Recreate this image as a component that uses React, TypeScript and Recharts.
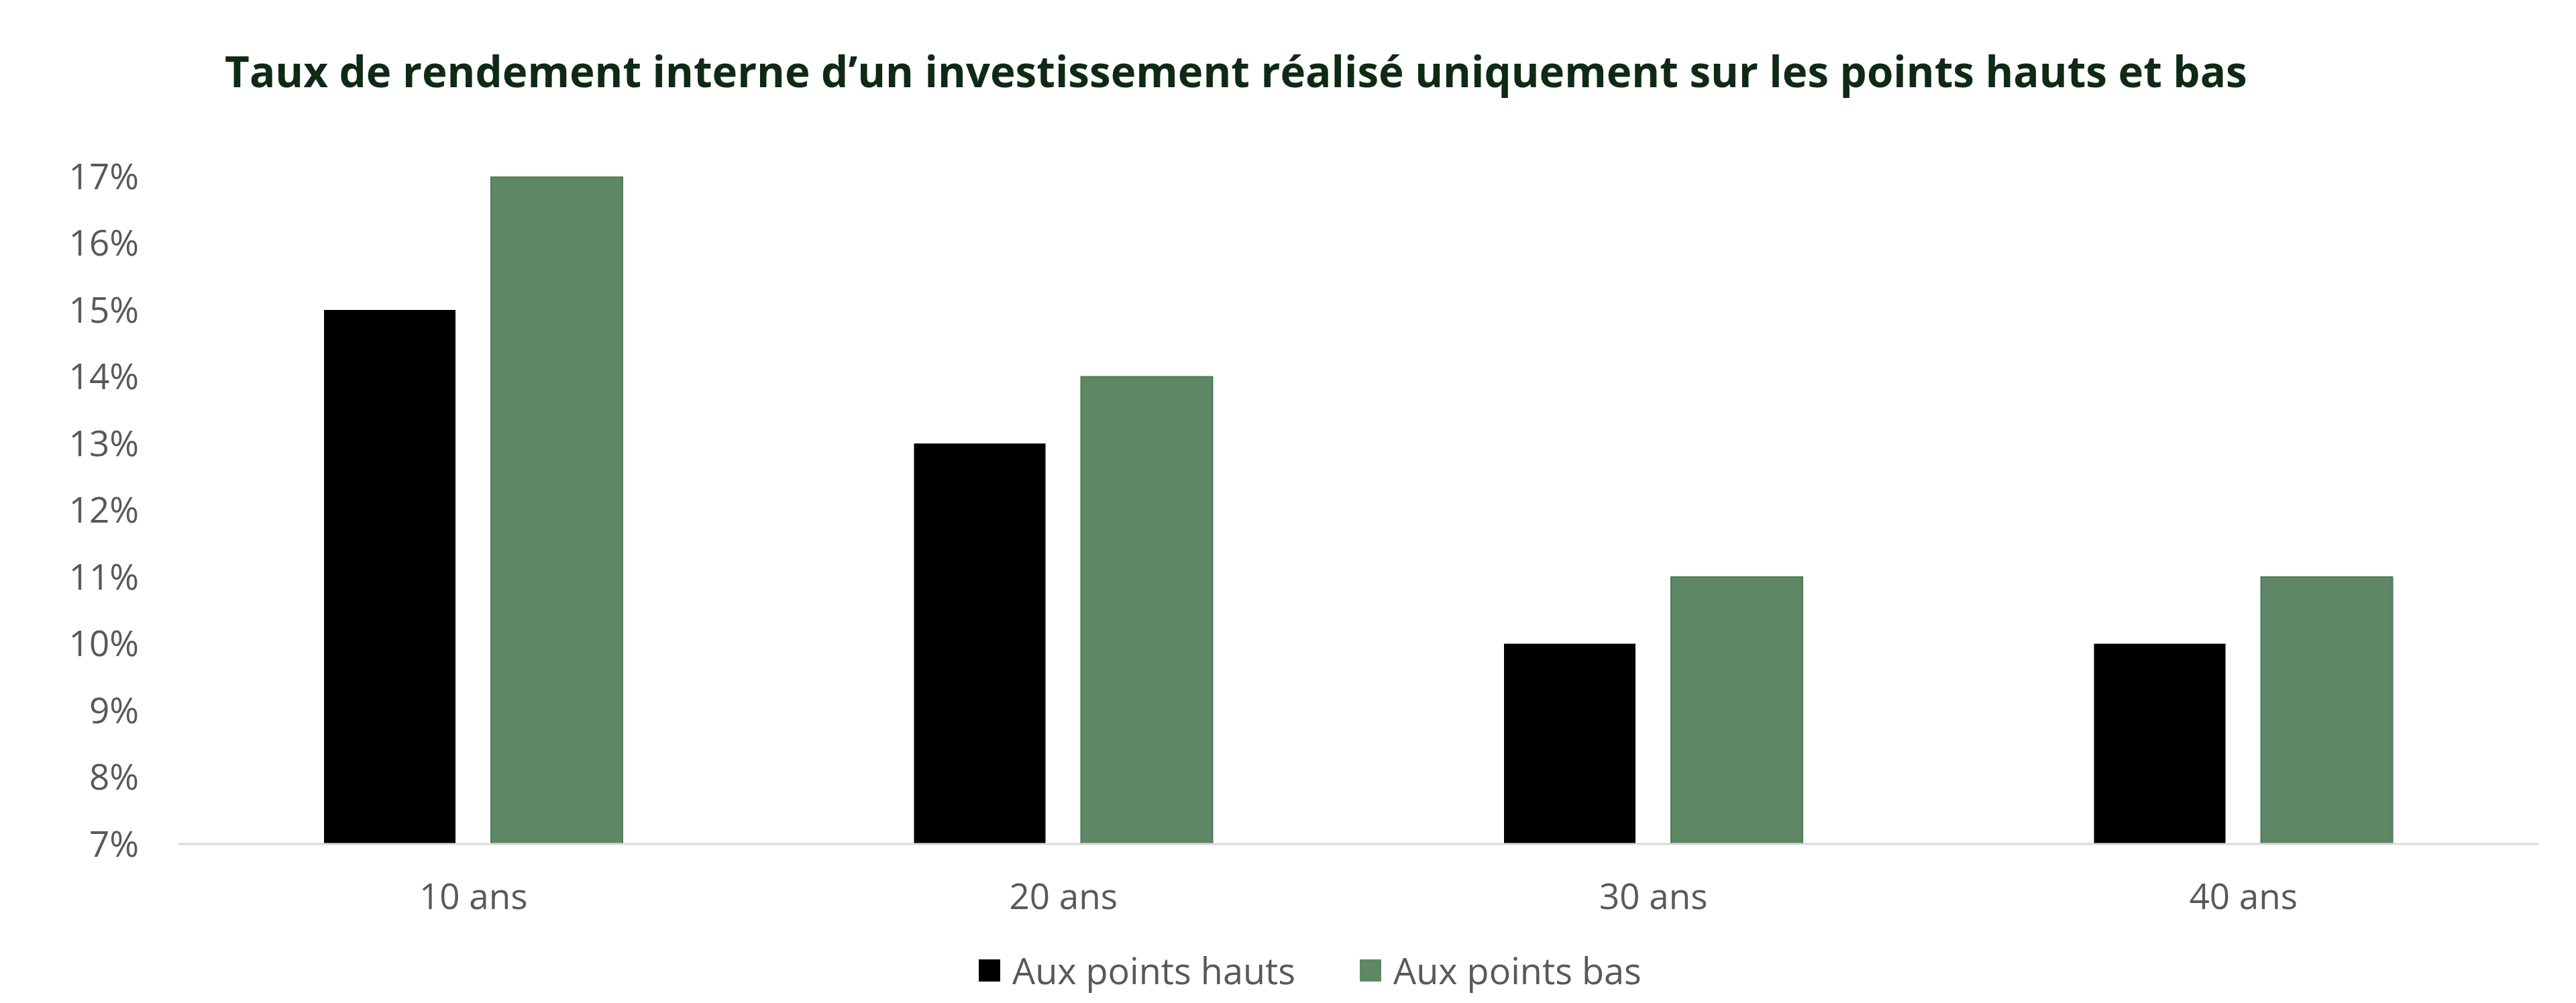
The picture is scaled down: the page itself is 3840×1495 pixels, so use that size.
import { BarChart, Bar, XAxis, YAxis, Legend } from "recharts";

const periods = ["10 ans", "20 ans", "30 ans", "40 ans"];
const auxPointsHauts = [15, 13, 10, 10];
const auxPointsBas = [17, 14, 11, 11];
const yTicks = [7, 8, 9, 10, 11, 12, 13, 14, 15, 16, 17];
const seriesOrder = ["Aux points hauts", "Aux points bas"];

const data = periods.map((periode, i) => ({
  periode,
  hauts: auxPointsHauts[i],
  bas: auxPointsBas[i],
}));

const FONT = '"Open Sans", sans-serif';
const GREEN = "#5e8766";

const renderLegend = (props: any) => {
  const payload = [...(props.payload || [])].sort(
    (a: any, b: any) => seriesOrder.indexOf(a.value) - seriesOrder.indexOf(b.value)
  );
  return (
    <div style={{ display: "flex", alignItems: "center", fontFamily: FONT }}>
      {payload.map((entry: any, i: number) => (
        <div
          key={entry.value}
          style={{ display: "flex", alignItems: "center", marginRight: i === 0 ? 96 : 0 }}
        >
          <span
            style={{
              display: "inline-block",
              width: 32,
              height: 33,
              background: entry.color,
              marginRight: 18,
            }}
          />
          <span style={{ fontSize: 54, color: "#595959", lineHeight: "60px" }}>{entry.value}</span>
        </div>
      ))}
    </div>
  );
};

export default function App() {
  return (
    <div
      style={{
        position: "fixed",
        top: 0,
        left: 0,
        width: 3840,
        height: 1495,
        background: "#fff",
        fontFamily: FONT,
      }}
    >
      <div
        style={{
          position: "absolute",
          left: 335,
          top: 74,
          fontSize: 63.7,
          lineHeight: "63.7px",
          fontWeight: 700,
          color: "#0e2a14",
          whiteSpace: "nowrap",
        }}
      >
        Taux de rendement interne d’un investissement réalisé uniquement sur les points hauts et bas
      </div>
      <BarChart
        width={3840}
        height={1495}
        data={data}
        margin={{ top: 263, right: 56, bottom: 137, left: 0 }}
        barSize={196}
        barGap={53}
      >
        <XAxis
          dataKey="periode"
          height={100}
          axisLine={{ stroke: "#d9d9d9", strokeWidth: 3 }}
          tickLine={false}
          tickSize={0}
          tickMargin={59}
          tick={{ fontSize: 53, fill: "#595959", fontFamily: FONT }}
        />
        <YAxis
          width={266}
          domain={[7, 17]}
          ticks={yTicks}
          allowDataOverflow
          axisLine={false}
          tickLine={false}
          tickSize={0}
          tickMargin={59}
          tickFormatter={(v: number) => `${v}%`}
          tick={{ fontSize: 53, fill: "#595959", fontFamily: FONT }}
        />
        <Legend
          verticalAlign="middle"
          align="center"
          content={renderLegend}
          wrapperStyle={{ top: 1416, left: 1459, width: "auto", height: "auto" }}
        />
        <Bar dataKey="hauts" name="Aux points hauts" fill="#000000" isAnimationActive={false} />
        <Bar
          dataKey="bas"
          name="Aux points bas"
          fill={GREEN}
          stroke="#4d7a57"
          strokeWidth={2}
          isAnimationActive={false}
        />
      </BarChart>
    </div>
  );
}
